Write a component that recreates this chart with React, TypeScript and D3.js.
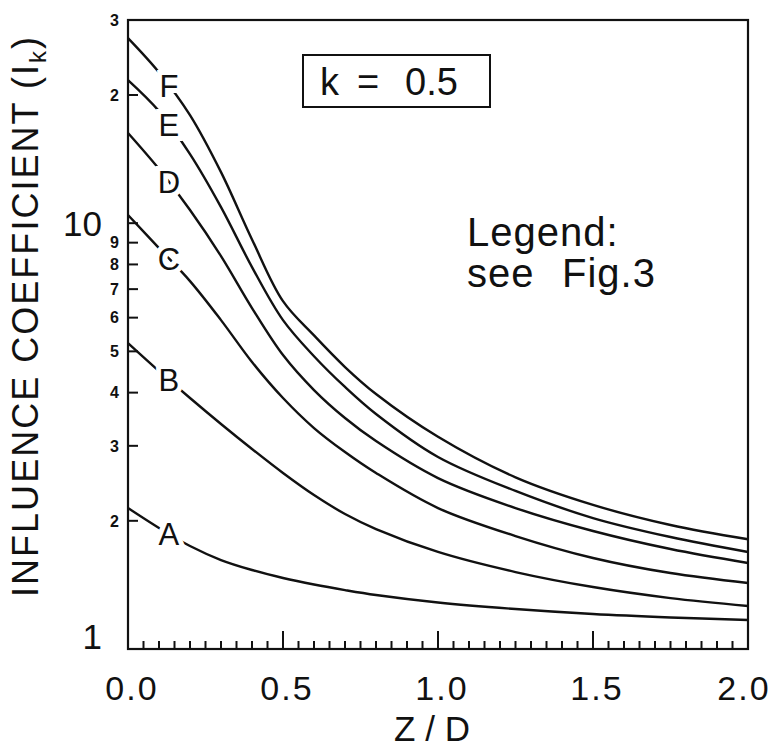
import React, { useEffect, useRef } from 'react';
import * as d3 from 'd3';

// Z/D sample positions
const zOverD = [0, 0.1, 0.2, 0.3, 0.4, 0.5, 0.6, 0.7, 0.8, 1.0, 1.25, 1.5, 1.75, 2.0];

// influence coefficient I_k for each curve, k = 0.5
const curveA = [2.143, 1.924, 1.745, 1.618, 1.533, 1.468, 1.417, 1.375, 1.339, 1.286, 1.241, 1.208, 1.186, 1.17];
const curveB = [5.23, 4.495, 3.885, 3.376, 2.949, 2.59, 2.299, 2.075, 1.913, 1.69, 1.516, 1.398, 1.317, 1.262];
const curveC = [10.45, 8.74, 7.31, 5.92, 4.72, 3.885, 3.303, 2.901, 2.59, 2.143, 1.842, 1.636, 1.508, 1.429];
const curveD = [16.28, 13.4, 10.74, 8.37, 6.32, 4.9, 4.056, 3.487, 3.078, 2.52, 2.143, 1.893, 1.717, 1.592];
const curveE = [21.68, 18.33, 14.53, 10.91, 7.887, 5.92, 4.87, 4.124, 3.563, 2.824, 2.35, 2.03, 1.832, 1.69];
const curveF = [27.2, 22.6, 17.94, 13.18, 9.16, 6.56, 5.45, 4.594, 3.97, 3.15, 2.53, 2.18, 1.955, 1.81];

const curveNames = ['A', 'B', 'C', 'D', 'E', 'F'];
const curveValues = [curveA, curveB, curveC, curveD, curveE, curveF];

// y axis (log): ticks and the labels written beside them
const yTicks = [2, 3, 4, 5, 6, 7, 8, 9, 10, 20];
const yLabelValues = [1, 2, 3, 4, 5, 6, 7, 8, 9, 10, 20, 30];
const yLabelTexts = ['1', '2', '3', '4', '5', '6', '7', '8', '9', '10', '2', '3'];
const yBigLabels = [1, 10];

// x axis
const xMajor = [0, 0.5, 1.0, 1.5, 2.0];
const xMajorLabels = ['0.0', '0.5', '1.0', '1.5', '2.0'];

const labelAt = 0.132;

const FONT = '"Liberation Sans", Arial, sans-serif';

export default function App() {
  const ref = useRef<SVGSVGElement>(null);

  useEffect(() => {
    const width = 776;
    const height = 751;
    const left = 128, right = 748, top = 20, bottom = 649;

    const svg = d3.select(ref.current);
    svg.selectAll('*').remove();
    svg.attr('width', width).attr('height', height);

    const x = d3.scaleLinear().domain([0, 2]).range([left, right]);
    const y = d3.scaleLog().domain([1, 30]).range([bottom, top]);

    // frame
    svg.append('rect')
      .attr('x', left).attr('y', top)
      .attr('width', right - left).attr('height', bottom - top)
      .attr('fill', 'none').attr('stroke', '#111').attr('stroke-width', 2.2);

    // y ticks, pointing into the plot
    svg.append('g').selectAll('line')
      .data(yTicks)
      .enter().append('line')
      .attr('x1', left).attr('x2', left + 10)
      .attr('y1', d => y(d)).attr('y2', d => y(d))
      .attr('stroke', '#111').attr('stroke-width', 2);

    // y tick labels
    svg.append('g').selectAll('text')
      .data(yLabelValues)
      .enter().append('text')
      .attr('x', d => (yBigLabels.includes(d) ? 102 : 119))
      .attr('y', d => y(d))
      .attr('dy', d => (d === 1 ? '0' : '0.36em'))
      .attr('text-anchor', 'end')
      .attr('font-family', FONT)
      .attr('font-size', d => (yBigLabels.includes(d) ? 35 : 16))
      .attr('font-weight', d => (yBigLabels.includes(d) ? 'normal' : 'bold'))
      .attr('fill', '#111')
      .text((d, i) => yLabelTexts[i]);

    // x ticks every 0.05, taller at the labelled ones
    const xTicks = d3.range(1, 40).map(i => i * 0.05);
    svg.append('g').selectAll('line')
      .data(xTicks)
      .enter().append('line')
      .attr('x1', d => x(d)).attr('x2', d => x(d))
      .attr('y1', bottom)
      .attr('y2', (d, i) => bottom - ((i + 1) % 10 === 0 ? 18 : 8))
      .attr('stroke', '#111').attr('stroke-width', 2);

    svg.append('g').selectAll('text')
      .data(xMajor)
      .enter().append('text')
      .attr('x', d => Math.min(x(d) + 4, 744))
      .attr('y', 700)
      .attr('text-anchor', 'middle')
      .attr('font-family', FONT)
      .attr('font-size', 34)
      .attr('letter-spacing', 2)
      .attr('fill', '#111')
      .text((d, i) => xMajorLabels[i]);

    // axis titles
    svg.append('text')
      .attr('x', 432).attr('y', 741)
      .attr('text-anchor', 'middle')
      .attr('font-family', FONT).attr('font-size', 35)
      .attr('fill', '#111')
      .style('white-space', 'pre')
      .text('Z / D');

    const yTitle = svg.append('text')
      .attr('transform', 'translate(38, 317) rotate(-90)')
      .attr('text-anchor', 'middle')
      .attr('font-family', FONT).attr('font-size', 36)
      .attr('textLength', 560).attr('lengthAdjust', 'spacing')
      .attr('fill', '#111');
    yTitle.append('tspan').text('INFLUENCE COEFFICIENT (I');
    yTitle.append('tspan').attr('font-size', 24).attr('dy', 8).text('k');
    yTitle.append('tspan').attr('dy', -8).text(')');

    // curves
    const line = d3.line<number>()
      .x((d, i) => x(zOverD[i]))
      .y(d => y(d))
      .curve(d3.curveCatmullRom.alpha(0.5));

    svg.append('g').selectAll('path')
      .data(curveValues)
      .enter().append('path')
      .attr('d', d => line(d))
      .attr('fill', 'none')
      .attr('stroke', '#111')
      .attr('stroke-width', 2.4);

    // curve letters sit on the lines and break them
    svg.append('g').selectAll('text')
      .data(curveValues)
      .enter().append('text')
      .attr('x', x(labelAt))
      .attr('y', d => {
        const logInterp = d3.scaleLinear().domain(zOverD).range(d.map(Math.log));
        return y(Math.exp(logInterp(labelAt)));
      })
      .attr('dy', '0.36em')
      .attr('text-anchor', 'middle')
      .attr('font-family', FONT).attr('font-size', 31)
      .attr('fill', '#111')
      .attr('stroke', '#fff').attr('stroke-width', 10)
      .attr('paint-order', 'stroke')
      .text((d, i) => curveNames[i]);

    // k box
    svg.append('rect')
      .attr('x', 303).attr('y', 55).attr('width', 187).attr('height', 52)
      .attr('fill', 'none').attr('stroke', '#111').attr('stroke-width', 2);
    const kText = svg.append('text')
      .attr('y', 95)
      .attr('font-family', FONT).attr('font-size', 38)
      .attr('fill', '#111');
    kText.append('tspan').attr('x', 320).text('k');
    kText.append('tspan').attr('x', 357).text('=');
    kText.append('tspan').attr('x', 405).text('0.5');

    // legend note
    svg.append('text')
      .attr('x', 467).attr('y', 246)
      .attr('font-family', FONT).attr('font-size', 40)
      .attr('letter-spacing', 1)
      .attr('fill', '#111')
      .text('Legend:');
    const see = svg.append('text')
      .attr('y', 287)
      .attr('font-family', FONT).attr('font-size', 40)
      .attr('letter-spacing', 1)
      .attr('fill', '#111');
    see.append('tspan').attr('x', 467).text('see');
    see.append('tspan').attr('x', 562).text('Fig.3');
  }, []);

  return (
    <svg ref={ref} style={{ position: 'absolute', left: 0, top: 0, background: '#fff' }} />
  );
}
